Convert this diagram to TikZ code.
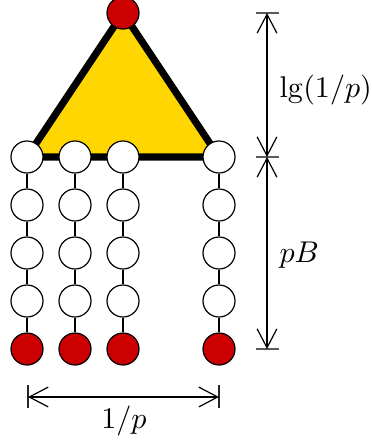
\documentclass[tikz,border=0pt]{standalone}
\usetikzlibrary{arrows.meta}
\definecolor{nodered}{HTML}{CC0000}
\definecolor{trigold}{HTML}{FFD600}
\begin{document}
\begin{tikzpicture}[x=0.3333pt,y=-0.3333pt,
  vtx/.style={circle,draw=black,line width=0.4pt,fill=white,minimum size=10.67pt,inner sep=0pt},
  leaf/.style={vtx,fill=nodered},
  link/.style={line width=0.75pt},
  dimline/.style={line width=0.4pt,{Straight Barb[length=6.3pt,width=6.6pt]}-{Straight Barb[length=6.3pt,width=6.6pt]}},
  tick/.style={line width=0.7pt,draw=black!65},
  lbl/.style={inner sep=0pt}]
\useasboundingbox (0,0) rectangle (372,444);
% coordinates
\coordinate (tl) at (27,157);
\coordinate (tr) at (219,157);
\coordinate (tp) at (123,13);
\fill[trigold] (tp) -- (tl) -- (tr) -- cycle;
\draw[line width=2.4pt,line join=miter] (tp) -- (tl) -- (tr) -- cycle;
% columns
\foreach \c/\x in {a/27,b/75,c/123,d/219}{
  \foreach \r/\y in {1/157,2/205,3/253,4/301}{
    \node[vtx] (\c\r) at (\x,\y) {};
  }
  \node[leaf] (\c5) at (\x,349) {};
  \draw[link] (\c1) -- (\c2);
  \draw[link] (\c2) -- (\c3);
  \draw[link] (\c3) -- (\c4);
  \draw[link] (\c4) -- (\c5);
}
\node[leaf] (root) at (tp) {};
% right dimensions
\coordinate (r1a) at (256,13); \coordinate (r1b) at (279,13);
\coordinate (r2a) at (256,157); \coordinate (r2b) at (279,157);
\coordinate (r3a) at (256,349); \coordinate (r3b) at (279,349);
\draw[tick] (r1a) -- (r1b);
\draw[tick] (r2a) -- (r2b);
\draw[tick] (r3a) -- (r3b);
\coordinate (v1) at (267,13);
\coordinate (v2) at (267,157);
\coordinate (v3) at (267,349);
\draw[dimline] (v1) -- (v2);
\draw[dimline] (v2) -- (v3);
\node[lbl,anchor=west] (lg) at (279,90) {$\lg(1/p)$};
\node[lbl,anchor=west] (pb) at (279,255) {$pB$};
% bottom dimension
\coordinate (b1a) at (28,385); \coordinate (b1b) at (28,408);
\coordinate (b2a) at (219,385); \coordinate (b2b) at (219,408);
\draw[tick,draw=black!85] (b1a) -- (b1b);
\draw[tick,draw=black!85] (b2a) -- (b2b);
\coordinate (h1) at (28,397);
\coordinate (h2) at (219,397);
\draw[dimline] (h1) -- (h2);
\node[lbl] (invp) at (124,421) {$1/p$};
\end{tikzpicture}
\end{document}
